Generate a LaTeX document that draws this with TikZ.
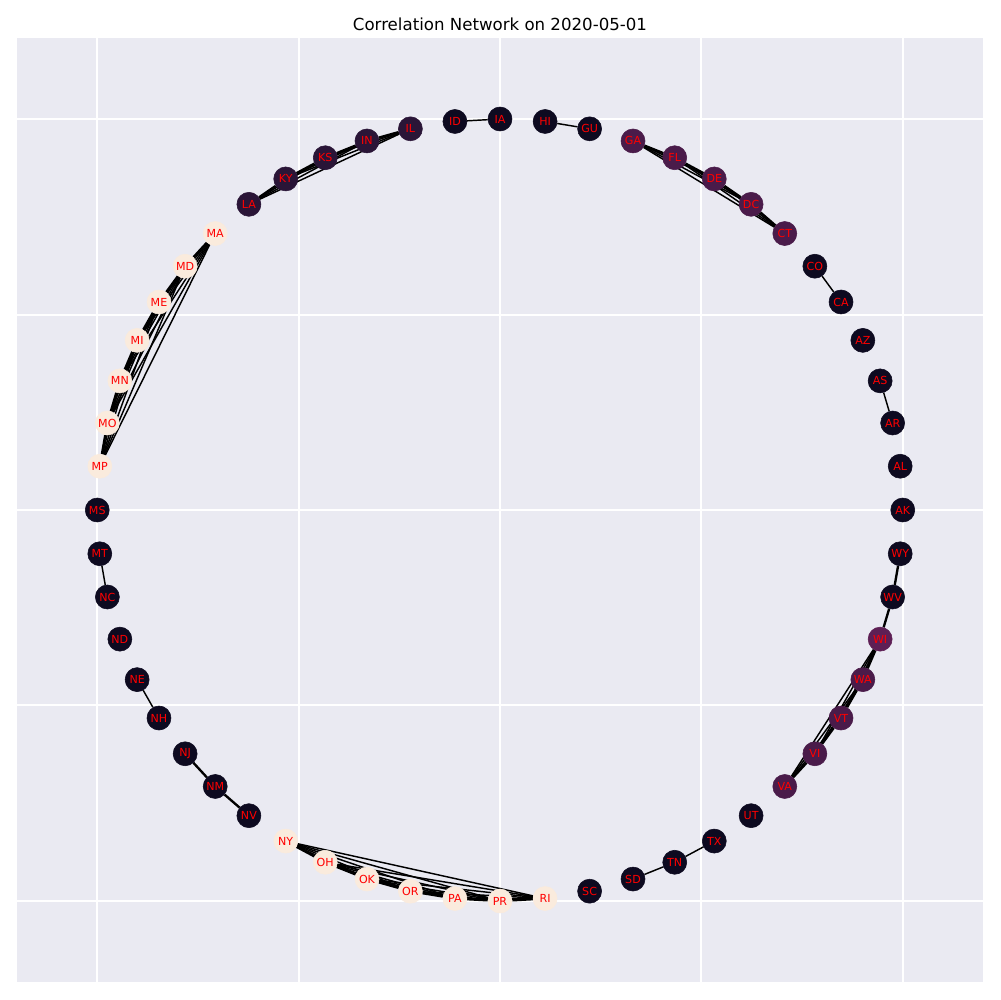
\documentclass[tikz,border=0pt]{standalone}
\usepackage{fontspec}
\setmainfont{DejaVu Sans}
\usetikzlibrary{calc}
\definecolor{axbg}{HTML}{EAEAF2}
\definecolor{cdark}{HTML}{0D0A20}
\definecolor{cplum}{HTML}{2A1537}
\definecolor{cwine}{HTML}{4A1B4A}
\definecolor{cberry}{HTML}{5E1F55}
\definecolor{cpeach}{HTML}{FAEBDD}
\pgfdeclarelayer{axes}
\pgfdeclarelayer{links}
\pgfsetlayers{axes,links,main}
\tikzset{
  statenode/.style={
    circle,
    fill=#1,
    draw=#1,
    minimum size=0.24in,
    inner sep=0pt,
    font=\fontsize{8}{8}\selectfont,
    text=red
  },
  corrlink/.style={draw=black,line width=1.05pt},
  strongcorr/.style={draw=black,line width=1.7pt},
  gridline/.style={draw=white,line width=0.9pt}
}

\begin{document}
\begin{tikzpicture}[x=0.01in,y=-0.01in]
  \useasboundingbox (0,0) rectangle (1000,1000);
  \begin{pgfonlayer}{axes}
    \fill[white] (0,0) rectangle (1000,1000);
    \fill[axbg] (17,38) rectangle (983,982);
    \foreach \gx in {97,299,500,701,903}
      \draw[gridline] (\gx,38) -- (\gx,982);
    \foreach \gy in {119,315,510,705,901}
      \draw[gridline] (17,\gy) -- (983,\gy);
  \end{pgfonlayer}
  \node[font=\fontsize{12}{14}\selectfont] (title) at (500,24)
    {Correlation Network on 2020-05-01};
  % states on the circle
  \foreach \st/\col [count=\i from 0] in {
      AK/cdark,AL/cdark,AR/cdark,AS/cdark,AZ/cdark,CA/cdark,CO/cdark,
      CT/cwine,DC/cwine,DE/cwine,FL/cwine,GA/cwine,GU/cdark,HI/cdark,
      IA/cdark,ID/cdark,IL/cplum,IN/cplum,KS/cplum,KY/cplum,LA/cplum,
      MA/cpeach,MD/cpeach,ME/cpeach,MI/cpeach,MN/cpeach,MO/cpeach,MP/cpeach,
      MS/cdark,MT/cdark,NC/cdark,ND/cdark,NE/cdark,NH/cdark,NJ/cdark,
      NM/cdark,NV/cdark,NY/cpeach,OH/cpeach,OK/cpeach,OR/cpeach,PA/cpeach,
      PR/cpeach,RI/cpeach,SC/cdark,SD/cdark,TN/cdark,TX/cdark,UT/cdark,
      VA/cwine,VI/cwine,VT/cwine,WA/cwine,WI/cberry,WV/cdark,WY/cdark}
    \node[statenode=\col] (\st)
      at ({500+402.75*cos(360/56*\i)},{510-391*sin(360/56*\i)}) {\st};
  \begin{pgfonlayer}{links}
    % correlated groups
    \foreach \grp in {{IL,IN,KS,KY,LA},{CT,DC,DE,FL,GA},
        {MA,MD,ME,MI,MN,MO,MP},{NY,OH,OK,OR,PA,PR,RI},{VA,VI,VT,WA,WI}}
      \foreach \u [count=\i] in \grp
        \foreach \v [count=\j] in \grp {
          \pgfmathtruncatemacro\gap{\j-\i}
          \ifnum\gap=1
            \draw[strongcorr] (\u) -- (\v);
          \else\ifnum\gap>1
            \draw[corrlink] (\u) -- (\v);
          \fi\fi
        };
    % single pairs
    \foreach \u/\v in {ID/IA,HI/GU,CO/CA,AS/AR,MT/NC,NE/NH,SD/TN,TN/TX}
      \draw[corrlink] (\u) -- (\v);
    \foreach \u/\v in {NJ/NM,NM/NV,WY/WV,WV/WI}
      \draw[strongcorr] (\u) -- (\v);
  \end{pgfonlayer}
\end{tikzpicture}
\end{document}
